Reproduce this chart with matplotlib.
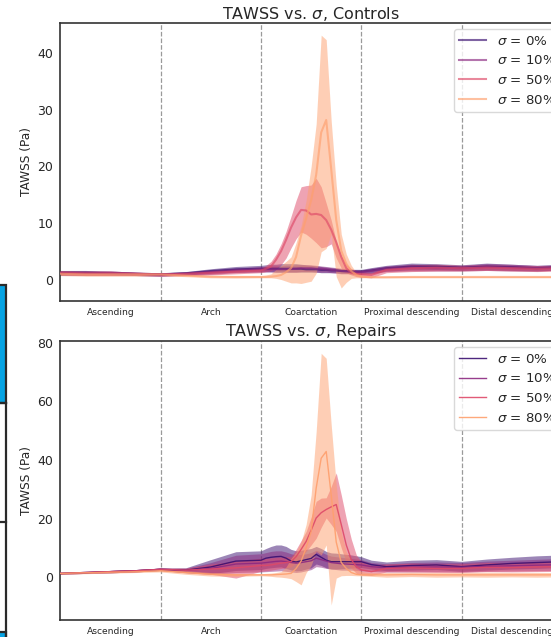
import matplotlib
matplotlib.use("Agg")
import matplotlib.pyplot as plt
from matplotlib.patches import Rectangle
from matplotlib.lines import Line2D

# ---------------- data ----------------
x = [0.0, 0.25, 0.5, 0.75, 1.0, 1.25, 1.5, 1.75, 2.0, 2.05, 2.1, 2.15, 2.2, 2.25, 2.3,
     2.35, 2.4, 2.45, 2.5, 2.55, 2.6, 2.65, 2.7, 2.75, 2.8, 2.85, 2.9, 2.95, 3.0, 3.1,
     3.25, 3.5, 3.75, 4.0, 4.25, 4.5, 4.75, 5.0]

segments = ["Ascending", "Arch", "Coarctation", "Proximal descending", "Distal descending"]
segment_centers = [0.5, 1.5, 2.5, 3.5, 4.5]
segment_bounds = [1, 2, 3, 4]
sigma_labels = ["0%", "10%", "50%", "80%"]

# Controls
ctrl_m0 = [1.2, 1.2, 1.1, 1.0, 0.9, 1.1, 1.5, 1.8, 1.9, 1.9, 1.9, 1.9, 1.9, 1.9, 1.9, 1.9, 1.9, 1.8, 1.8, 1.8, 1.7, 1.7, 1.6, 1.6, 1.5, 1.5, 1.4, 1.4, 1.4, 1.6, 2.0, 2.3, 2.3, 2.1, 2.3, 2.2, 2.0, 2.2]
ctrl_lo0 = [0.8, 0.8, 0.8, 0.7, 0.6, 0.8, 1.1, 1.3, 1.4, 1.4, 1.4, 1.3, 1.3, 1.3, 1.3, 1.3, 1.3, 1.3, 1.3, 1.3, 1.2, 1.2, 1.2, 1.2, 1.1, 1.1, 1.0, 1.0, 1.0, 1.1, 1.5, 1.7, 1.7, 1.6, 1.7, 1.6, 1.5, 1.7]
ctrl_hi0 = [1.6, 1.6, 1.5, 1.3, 1.2, 1.4, 1.9, 2.3, 2.5, 2.6, 2.7, 2.7, 2.8, 2.8, 2.8, 2.8, 2.7, 2.6, 2.5, 2.4, 2.3, 2.2, 2.1, 2.0, 1.9, 1.9, 1.8, 1.8, 1.8, 2.1, 2.5, 2.9, 2.8, 2.6, 2.9, 2.7, 2.5, 2.7]

ctrl_m10 = [1.1, 1.1, 1.1, 1.0, 0.9, 1.0, 1.3, 1.6, 1.8, 1.8, 1.8, 1.8, 1.8, 1.8, 1.9, 1.9, 2.0, 2.0, 2.0, 1.9, 1.9, 1.8, 1.7, 1.6, 1.5, 1.4, 1.4, 1.3, 1.3, 1.5, 1.9, 2.1, 2.0, 2.0, 2.2, 2.1, 2.0, 2.1]
ctrl_lo10 = [0.7, 0.7, 0.7, 0.7, 0.6, 0.7, 0.9, 1.2, 1.3, 1.3, 1.3, 1.3, 1.3, 1.3, 1.3, 1.3, 1.4, 1.4, 1.4, 1.3, 1.3, 1.3, 1.2, 1.1, 1.0, 1.0, 1.0, 0.9, 0.9, 1.0, 1.4, 1.5, 1.5, 1.5, 1.6, 1.5, 1.5, 1.6]
ctrl_hi10 = [1.5, 1.5, 1.5, 1.3, 1.2, 1.3, 1.7, 2.0, 2.3, 2.3, 2.4, 2.4, 2.4, 2.5, 2.5, 2.6, 2.6, 2.6, 2.6, 2.5, 2.4, 2.3, 2.2, 2.1, 2.0, 1.8, 1.8, 1.7, 1.7, 2.0, 2.4, 2.7, 2.5, 2.5, 2.8, 2.7, 2.5, 2.6]

ctrl_m50 = [1.2, 1.1, 1.1, 1.0, 0.9, 1.0, 1.2, 1.4, 1.6, 1.9, 2.3, 3.5, 5.0, 7.0, 9.2, 11.0, 12.3, 12.2, 11.5, 11.6, 11.4, 10.5, 8.8, 6.6, 4.0, 2.0, 1.2, 1.0, 0.9, 0.8, 1.7, 2.0, 2.1, 2.0, 2.1, 2.0, 1.9, 2.0]
ctrl_lo50 = [0.8, 0.7, 0.7, 0.7, 0.6, 0.7, 0.8, 1.0, 1.2, 1.4, 1.6, 2.0, 2.6, 3.8, 5.6, 7.2, 8.4, 8.0, 7.3, 6.5, 5.6, 5.8, 6.3, 3.8, 2.0, 1.2, 0.8, 0.5, 0.4, 0.3, 1.2, 1.4, 1.5, 1.5, 1.6, 1.5, 1.4, 1.5]
ctrl_hi50 = [1.6, 1.5, 1.5, 1.3, 1.2, 1.3, 1.6, 1.8, 2.0, 2.5, 3.2, 4.5, 6.3, 8.5, 11.2, 14.0, 16.4, 16.6, 16.7, 17.9, 16.4, 13.5, 10.5, 6.8, 4.3, 2.7, 1.9, 1.6, 1.4, 1.2, 2.2, 2.6, 2.7, 2.5, 2.6, 2.5, 2.4, 2.5]

ctrl_m80 = [1.0, 0.9, 0.9, 0.9, 0.9, 0.7, 0.5, 0.45, 0.45, 0.45, 0.5, 0.6, 0.8, 1.3, 2.0, 4.0, 7.8, 10.8, 14.0, 18.5, 26.0, 28.2, 19.5, 10.5, 5.1, 2.8, 1.5, 0.8, 0.5, 0.4, 0.4, 0.45, 0.45, 0.45, 0.45, 0.45, 0.45, 0.45]
ctrl_lo80 = [0.7, 0.6, 0.6, 0.6, 0.7, 0.5, 0.3, 0.25, 0.3, 0.3, 0.3, 0.2, 0.0, -0.3, -0.6, -0.6, -0.7, -0.5, -0.3, 1.1, 4.9, 5.5, 8.0, 0.5, -1.5, -0.5, 0.2, 0.3, 0.3, 0.3, 0.3, 0.3, 0.3, 0.3, 0.3, 0.3, 0.3, 0.3]
ctrl_hi80 = [1.3, 1.2, 1.2, 1.2, 1.1, 0.9, 0.7, 0.7, 0.7, 0.8, 1.0, 1.8, 2.5, 3.2, 4.0, 6.5, 9.5, 14.0, 20.0, 27.5, 43.2, 42.4, 28.0, 16.7, 8.0, 4.5, 2.5, 1.2, 0.8, 0.6, 0.6, 0.6, 0.6, 0.6, 0.6, 0.6, 0.6, 0.6]

# Repairs
rep_m0 = [1.3, 1.6, 1.9, 2.2, 2.7, 2.4, 3.5, 5.5, 5.8, 6.5, 6.8, 7.0, 7.1, 6.5, 5.5, 5.2, 5.6, 6.0, 6.4, 7.8, 6.8, 5.8, 5.3, 5.3, 5.3, 5.3, 5.3, 5.3, 5.3, 4.3, 3.6, 4.0, 4.2, 3.6, 4.2, 4.7, 5.0, 5.3]
rep_lo0 = [1.0, 1.3, 1.5, 1.8, 2.3, 1.6, 1.2, 2.3, 2.6, 3.0, 3.2, 3.4, 3.5, 3.0, 2.5, 2.2, 2.3, 2.8, 3.2, 4.5, 4.0, 3.2, 2.8, 2.8, 2.9, 3.0, 3.1, 3.2, 3.3, 2.8, 2.2, 2.4, 2.6, 2.0, 2.4, 2.8, 3.0, 3.3]
rep_hi0 = [1.6, 1.9, 2.3, 2.6, 3.1, 3.2, 6.0, 8.7, 9.0, 9.8, 10.5, 11.0, 11.0, 10.5, 9.5, 9.0, 9.2, 9.5, 9.8, 10.5, 9.8, 8.8, 8.3, 8.2, 8.0, 7.8, 7.6, 7.3, 7.0, 5.8, 5.2, 5.8, 6.0, 5.4, 6.2, 6.8, 7.3, 7.6]

rep_m10 = [1.3, 1.6, 1.9, 2.2, 2.7, 2.3, 3.0, 4.5, 4.8, 5.0, 5.2, 5.4, 5.5, 5.3, 5.0, 4.8, 5.0, 5.3, 5.6, 6.5, 6.0, 5.5, 5.0, 4.8, 4.6, 4.5, 4.4, 4.3, 4.2, 3.6, 3.2, 3.4, 3.5, 3.4, 3.7, 3.9, 4.1, 4.3]
rep_lo10 = [1.0, 1.3, 1.5, 1.8, 2.3, 1.5, 1.0, 1.6, 1.8, 1.9, 2.0, 2.1, 2.2, 2.0, 1.8, 1.6, 1.8, 2.2, 2.6, 3.6, 3.4, 3.0, 2.8, 2.6, 2.4, 2.4, 2.4, 2.3, 2.2, 2.0, 1.8, 1.8, 1.9, 1.8, 2.0, 2.1, 2.2, 2.3]
rep_hi10 = [1.6, 1.9, 2.3, 2.6, 3.1, 3.0, 5.0, 7.5, 8.0, 8.4, 8.8, 9.0, 9.0, 8.6, 8.0, 7.6, 7.8, 8.0, 8.4, 9.2, 8.6, 7.8, 7.2, 7.0, 6.8, 6.6, 6.4, 6.2, 6.0, 5.0, 4.6, 5.0, 5.2, 5.0, 5.5, 5.8, 6.1, 6.4]

rep_m50 = [1.3, 1.6, 1.9, 2.2, 2.7, 2.4, 2.8, 3.2, 4.0, 4.0, 4.2, 4.5, 4.8, 5.0, 5.3, 7.0, 9.5, 12.2, 16.0, 20.2, 22.0, 23.1, 24.0, 24.8, 18.0, 11.0, 6.0, 3.6, 2.5, 1.9, 3.0, 3.2, 3.0, 3.0, 3.4, 3.3, 3.5, 3.6]
rep_lo50 = [1.0, 1.3, 1.5, 1.8, 2.3, 1.6, 1.0, -0.3, 2.0, 2.2, 2.4, 2.7, 3.0, 3.2, 3.5, 5.0, 7.0, 8.8, 11.0, 13.3, 17.0, 20.2, 18.0, 15.6, 10.0, 5.0, 3.1, 1.3, 0.8, 0.6, 1.8, 1.8, 1.6, 1.6, 1.9, 1.8, 1.9, 2.0]
rep_hi50 = [1.6, 1.9, 2.3, 2.6, 3.1, 3.1, 4.5, 5.5, 6.5, 6.5, 6.6, 6.8, 6.9, 7.0, 7.0, 9.5, 12.5, 15.6, 20.5, 25.9, 27.0, 27.1, 31.0, 35.6, 28.1, 20.0, 13.0, 7.6, 5.3, 4.0, 4.5, 4.8, 4.6, 4.6, 5.0, 5.0, 5.2, 5.3]

rep_m80 = [1.3, 1.5, 1.7, 1.9, 2.2, 1.6, 1.0, 0.8, 0.8, 0.8, 0.8, 0.9, 1.0, 1.1, 1.3, 3.0, 5.5, 10.0, 15.6, 30.4, 40.6, 42.9, 28.0, 12.0, 5.0, 3.0, 1.6, 1.0, 0.8, 0.8, 0.8, 0.9, 0.8, 0.8, 0.8, 0.8, 0.8, 0.8]
rep_lo80 = [1.0, 1.2, 1.4, 1.6, 1.8, 1.0, 0.4, 0.3, 0.5, 0.4, 0.3, 0.1, 0.0, -0.2, -0.5, -1.5, -2.6, 1.5, 4.0, 8.8, 7.6, 11.0, -9.5, -0.3, 0.5, 0.6, 0.6, 0.5, 0.5, 0.3, 0.0, 0.2, 0.0, 0.1, 0.0, 0.1, 0.0, 0.1]
rep_hi80 = [1.6, 1.8, 2.0, 2.3, 2.6, 2.2, 1.6, 1.3, 1.2, 1.3, 1.4, 1.6, 1.9, 3.5, 6.4, 8.5, 12.0, 18.0, 28.1, 49.7, 76.4, 74.7, 52.0, 31.5, 15.6, 8.8, 5.5, 3.0, 1.9, 1.5, 1.6, 1.7, 1.6, 1.6, 1.7, 1.6, 1.6, 1.6]

colors = ["#3b0f70", "#8c2981", "#de4968", "#fe9f6d"]

TXT = "#262626"
plt.rcParams.update({
    "font.family": "DejaVu Sans",
    "text.color": TXT,
    "axes.labelcolor": TXT,
    "xtick.color": TXT,
    "ytick.color": TXT,
})

W, H = 551, 637
fig = plt.figure(figsize=(W / 100, H / 100), dpi=100)


def add_panel(rect_px, means, los, his, title, yticks, ylim, lw, lalpha):
    left, top, right, bottom = rect_px
    ax = fig.add_axes([left / W, 1 - bottom / H, (right - left) / W, (bottom - top) / H])
    for b in segment_bounds:
        ax.axvline(b, color="#9a9a9a", ls="--", lw=0.9, zorder=1)
    for lo, hi, c in zip(los, his, colors):
        ax.fill_between(x, lo, hi, color=c, alpha=0.5, lw=0, zorder=2)
    for m, c, lab in zip(means, colors, sigma_labels):
        ax.plot(x, m, color=c, lw=lw, alpha=lalpha, zorder=3,
                label=r"$\sigma$ = " + lab)
    ax.set_xlim(0, 5)
    ax.set_ylim(*ylim)
    ax.set_yticks(yticks)
    ax.set_xticks(segment_centers)
    ax.set_xticklabels(segments, fontsize=6.6)
    ax.tick_params(axis="both", length=0)
    ax.tick_params(axis="y", labelsize=9, pad=5)
    ax.tick_params(axis="x", pad=5)
    ax.set_ylabel("TAWSS (Pa)", fontsize=8.7, labelpad=3)
    ax.set_title(title, fontsize=11.5, pad=3)
    for s in ax.spines.values():
        s.set_color("#333333")
        s.set_linewidth(1.2)
    shift = 6.0 / (right - left)
    leg = ax.legend(loc="upper right", bbox_to_anchor=(1 + shift, 1), fontsize=9.6,
                    frameon=True)
    leg.get_frame().set_edgecolor("#d0d0d0")
    return ax


add_panel((60.3, 22.7, 562.0, 301.0),
          [ctrl_m0, ctrl_m10, ctrl_m50, ctrl_m80],
          [ctrl_lo0, ctrl_lo10, ctrl_lo50, ctrl_lo80],
          [ctrl_hi0, ctrl_hi10, ctrl_hi50, ctrl_hi80],
          r"TAWSS vs. $\sigma$, Controls", [0, 10, 20, 30, 40], (-3.8, 45.4), 1.5, 0.65)

add_panel((60.3, 340.7, 562.0, 620.0),
          [rep_m0, rep_m10, rep_m50, rep_m80],
          [rep_lo0, rep_lo10, rep_lo50, rep_lo80],
          [rep_hi0, rep_hi10, rep_hi50, rep_hi80],
          r"TAWSS vs. $\sigma$, Repairs", [0, 20, 40, 60, 80], (-14.6, 80.7), 1.0, 0.9)

# fragments of a neighbouring panel at the left edge
def fx(px):
    return px / W


def fy(py):
    return 1 - py / H


fig.add_artist(Rectangle((fx(-5), fy(403)), fx(11), 118 / H, transform=fig.transFigure,
                         facecolor="#06a3e3", edgecolor="#2a2a2a", lw=1.6))
fig.add_artist(Rectangle((fx(-5), fy(640)), fx(11), 8 / H, transform=fig.transFigure,
                         facecolor="#06a3e3", edgecolor="#2a2a2a", lw=1.6))
fig.add_artist(Line2D([fx(5.5), fx(5.5)], [fy(403), fy(637)], transform=fig.transFigure,
                      color="#2a2a2a", lw=1.6))
for yy in (403, 522):
    fig.add_artist(Line2D([fx(0), fx(5.5)], [fy(yy), fy(yy)], transform=fig.transFigure,
                          color="#2a2a2a", lw=1.6))

fig.savefig("out.png", dpi=100)
